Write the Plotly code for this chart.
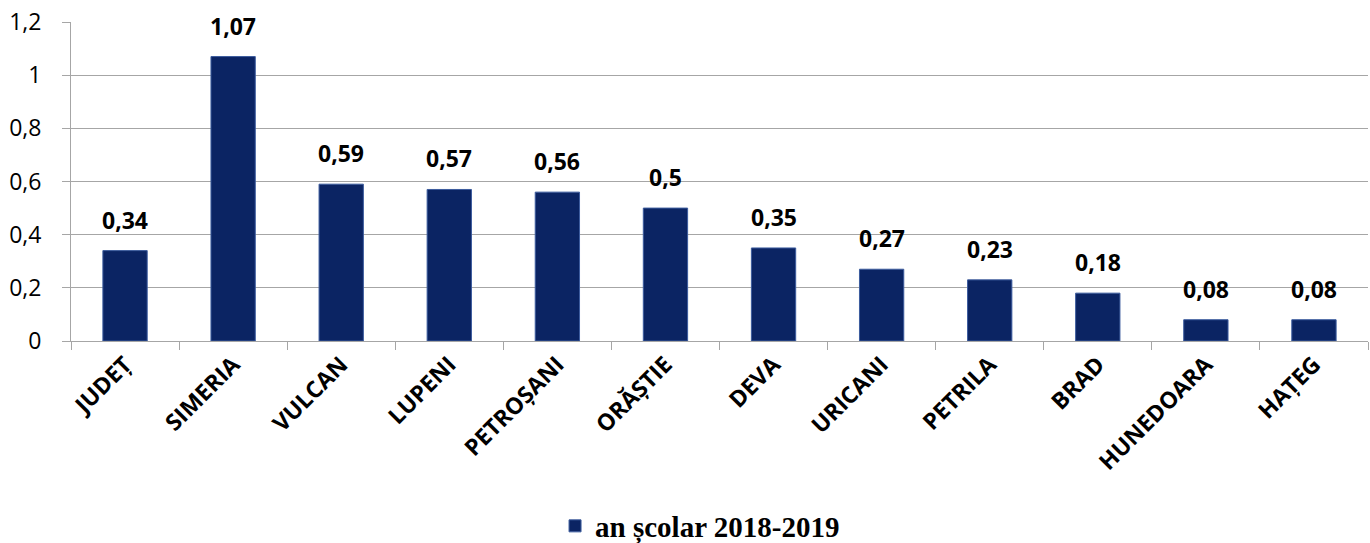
import plotly.graph_objects as go

categories = ["JUDEȚ", "SIMERIA", "VULCAN", "LUPENI", "PETROȘANI", "ORĂȘTIE",
              "DEVA", "URICANI", "PETRILA", "BRAD", "HUNEDOARA", "HAȚEG"]
values = [0.34, 1.07, 0.59, 0.57, 0.56, 0.50, 0.35, 0.27, 0.23, 0.18, 0.08, 0.08]
series_name = "an școlar 2018-2019"
y_ticks = [0, 0.2, 0.4, 0.6, 0.8, 1.0, 1.2]

labels = [f"{v:g}".replace(".", ",") for v in values]

fig = go.Figure()
fig.add_trace(go.Bar(
    x=categories, y=values, name=series_name,
    marker=dict(color="#0B2463", line=dict(color="#3C5C9E", width=1)),
    showlegend=True,
))

for c, v, t in zip(categories, values, labels):
    fig.add_annotation(x=c, y=v, text=f"<b>{t}</b>", showarrow=False,
                       yanchor="bottom", yshift=13,
                       font=dict(family="Open Sans", size=23, color="black"))

fig.update_layout(
    width=1370, height=556,
    margin=dict(l=71, r=2, t=22, b=215),
    plot_bgcolor="white", paper_bgcolor="white",
    separators=", ",
    bargap=0.59,
    showlegend=True,
    legend=dict(orientation="h", x=0.485, xanchor="center", y=-0.58, yanchor="middle",
                font=dict(family="Liberation Serif", size=29, color="black", weight="bold"),
                itemwidth=30),
    font=dict(family="Open Sans", color="black"),
)
fig.update_yaxes(range=[0, 1.2], tickvals=y_ticks, showgrid=True, gridcolor="#A6A6A6",
                 gridwidth=1, showline=True, linecolor="#A6A6A6", ticks="outside",
                 ticklen=8, tickcolor="#A6A6A6", tickfont=dict(size=23, family="Open Sans"),
                 zeroline=False, ticklabelstandoff=16, automargin=False)
fig.update_xaxes(tickangle=-45, showline=True, linecolor="#A6A6A6", ticks="outside",
                 tickson="boundaries", ticklen=8, tickcolor="#A6A6A6", automargin=False,
                 tickfont=dict(size=23, family="Open Sans", weight="bold"))

fig.write_html("out.html", config={"displayModeBar": False},
               post_script="document.body.style.margin='0';document.body.style.overflow='hidden';")
